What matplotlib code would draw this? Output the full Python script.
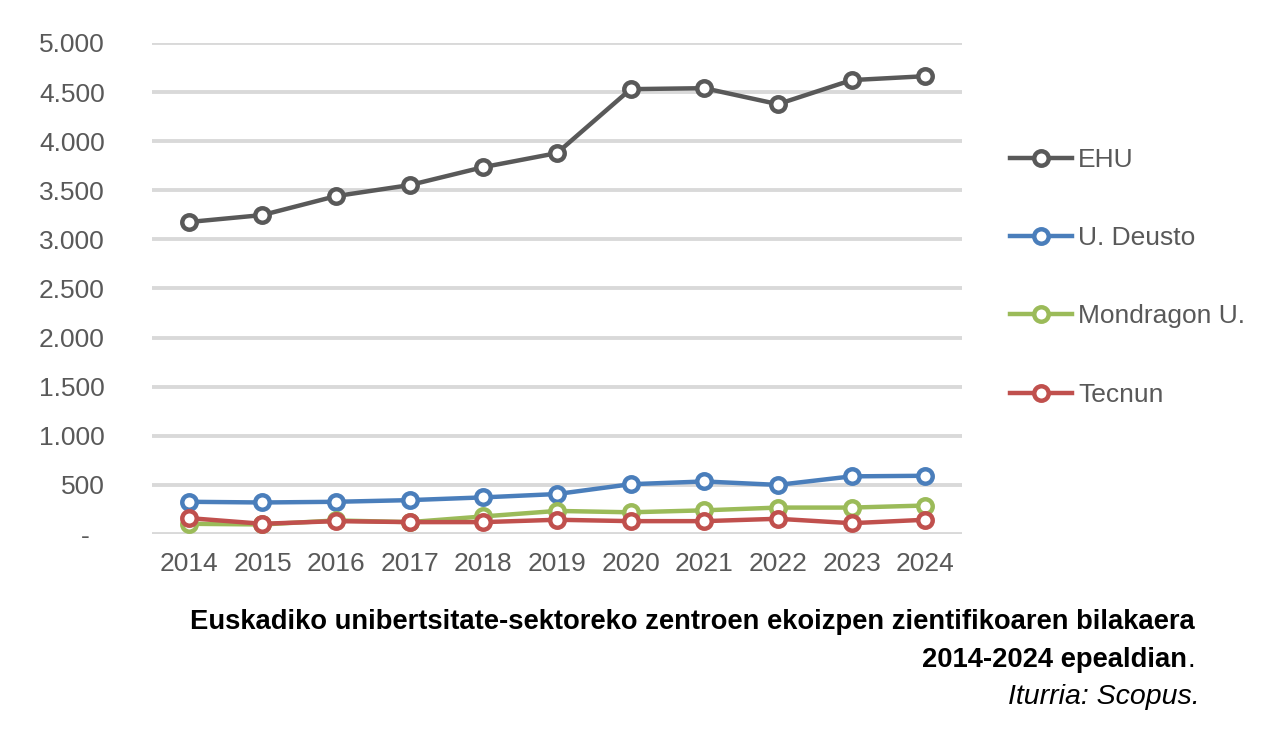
import matplotlib.pyplot as plt

plt.rcParams['font.family'] = ['Liberation Sans', 'DejaVu Sans']

years = ['2014', '2015', '2016', '2017', '2018', '2019', '2020', '2021', '2022', '2023', '2024']
ehu = [3177, 3248, 3441, 3553, 3736, 3879, 4530, 4540, 4377, 4622, 4662]
deusto = [328, 321, 328, 345, 373, 407, 507, 535, 500, 587, 593]
mondragon = [104, 97, 138, 121, 179, 235, 221, 241, 269, 269, 290]
tecnun = [162, 104, 131, 121, 121, 145, 131, 131, 155, 110, 145]

names = ['EHU', 'U. Deusto', 'Mondragon U.', 'Tecnun']
colors = ['#595959', '#4a7ebb', '#9bbb59', '#c0504d']
yticks = [0, 500, 1000, 1500, 2000, 2500, 3000, 3500, 4000, 4500, 5000]
ylabels = ['-  ', '500', '1.000', '1.500', '2.000', '2.500', '3.000', '3.500', '4.000', '4.500', '5.000']

fig = plt.figure(figsize=(12.88, 7.34), dpi=100)
ax = fig.add_axes([152/1288, 1-534/734, 810/1288, 491/734])

x = list(range(len(years)))
for s, name, c in zip([ehu, deusto, mondragon, tecnun], names, colors):
    ax.plot(x, s, color=c, lw=3.2, marker='o', ms=10.4, mfc='white', mec=c, mew=3.2,
            label=name, clip_on=False, zorder=3)

ax.set_xlim(-0.5, len(years) - 0.5)
ax.set_ylim(0, 5000)
ax.set_xticks(x)
ax.set_xticklabels(years)
ax.set_yticks(yticks)
ax.set_yticklabels(ylabels)
ax.tick_params(length=0, labelsize=19, colors='#595959')
ax.tick_params(axis='x', pad=13)
ax.tick_params(axis='y', pad=34)
ax.grid(axis='y', color='#d9d9d9', lw=2.8, zorder=0)
for sp in ax.spines.values():
    sp.set_visible(False)

leg = ax.legend(loc='upper left', bbox_to_anchor=(986/1288, 1-124/734), bbox_transform=fig.transFigure,
                frameon=False, fontsize=19, labelspacing=2.06, handlelength=2.35, handletextpad=0.25)
for t in leg.get_texts():
    t.set_color('#595959')

# caption: bold title, plain final dot, italic source
fs = 19.75
fig.text(1195/1288, 1-622/734, 'Euskadiko unibertsitate-sektoreko zentroen ekoizpen zientifikoaren bilakaera',
         ha='right', va='center', fontsize=fs, fontweight='bold', color='black')
dot = fig.text(1195/1288, 1-660/734, '.', ha='right', va='center', fontsize=fs, color='black')
fig.add_artist(plt.Annotation('2014-2024 epealdian', xy=(0, 0.5), xycoords=dot, ha='right', va='center',
                              fontsize=fs, fontweight='bold', color='black'))
fig.text(1200/1288, 1-697/734, 'Iturria: Scopus.', ha='right', va='center', fontsize=20.5,
         style='italic', color='black')

fig.savefig('out.png', dpi=100)
